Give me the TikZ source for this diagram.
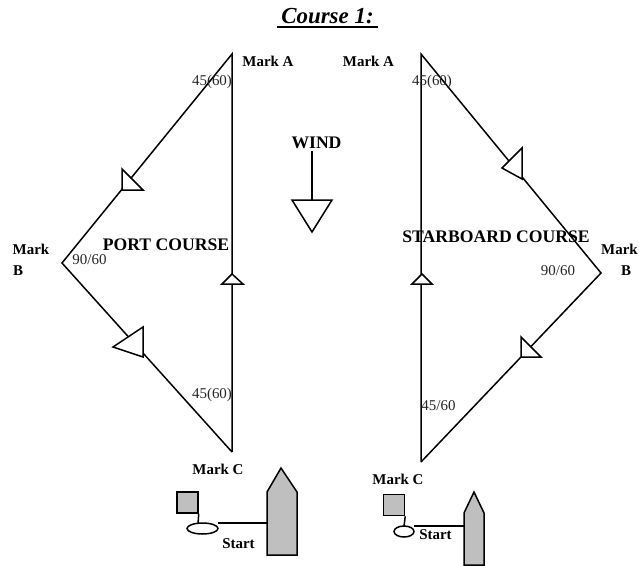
\documentclass[tikz,border=0pt]{standalone}
\usepackage{fontspec}
\setmainfont{Liberation Serif}
\usetikzlibrary{shapes.geometric}
\tikzset{
  course/.style={draw=black,line width=1.5bp,line join=miter},
  head/.style={draw=black,fill=white,line width=1.5bp,line join=miter},
  grey/.style={draw=black,fill=black!25,line width=1.5bp,line join=miter},
  lbl/.style={inner sep=0pt,yshift=-1bp,font=\fontsize{15}{15}\selectfont\color{black!85}},
  blbl/.style={inner sep=0pt,yshift=-0.7bp,font=\fontsize{15}{15}\selectfont\bfseries},
  big/.style={inner sep=0pt,font=\fontsize{17.7}{17.7}\selectfont\bfseries},
  flag/.style={draw=black,fill=black!25,line width=1.5bp,inner sep=0pt,minimum width=21bp,minimum height=21bp},
  buoy/.style={draw=black,fill=white,ellipse,line width=1.5bp,inner sep=0pt}
}
\begin{document}
\begin{tikzpicture}[x=1bp,y=-1bp]
\useasboundingbox (0,0) rectangle (639,566);
% Title
\node[inner sep=0pt,font=\fontsize{23}{23}\selectfont\bfseries\itshape] (title) at (327.5,16) {Course 1:};
\fill (277,26) rectangle (378,28.2);
% Port course
\coordinate (pA) at (232,54);
\coordinate (pB) at (62,263);
\coordinate (pC) at (232,452);
\draw[course] (pC) -- (pA) -- (pB) -- (pC);
\draw[head] (122,169) -- (122,190) -- (143,190) -- cycle;
\draw[head] (143,327) -- (143,357) -- (113,347) -- cycle;
\draw[head] (232,274) -- (222,284) -- (243,284) -- cycle;
% Starboard course
\coordinate (sA) at (421,54);
\coordinate (sB) at (601,273);
\coordinate (sC) at (421,462);
\draw[course] (sC) -- (sA) -- (sB) -- (sC);
\draw[head] (522,148) -- (522,179) -- (502,168) -- cycle;
\draw[head] (521,337) -- (521,357) -- (541,357) -- cycle;
\draw[head] (422,274) -- (412,284) -- (432,284) -- cycle;
% Wind
\node[big] (wind) at (316.5,143) {WIND};
\coordinate (wTop) at (312,151);
\coordinate (wBase) at (312,200);
\draw[course] (wTop) -- (wBase);
\draw[head] (292,200) -- (332,200) -- (312,232) -- cycle;
% Labels
\node[blbl] (lmA) at (268,61) {Mark A};
\node[blbl] (rmA) at (368.5,61) {Mark A};
\node[lbl] (la1) at (212,81) {45(60)};
\node[lbl] (ra1) at (432,81) {45(60)};
\node[big] (portc) at (166,245) {PORT COURSE};
\node[big] (starc) at (496,237) {STARBOARD COURSE};
\node[lbl] (l90) at (89.5,259) {90/60};
\node[lbl] (r90) at (558,270) {90/60};
\node[blbl] (lmB1) at (31,249) {Mark};
\node[blbl,anchor=west] (lmB2) at (13,270) {B};
\node[blbl] (rmB1) at (619.5,249) {Mark};
\node[blbl] (rmB2) at (626,270) {B};
\node[lbl] (lc45) at (212,394) {45(60)};
\node[lbl] (rc45) at (438.5,405) {45/60};
\node[blbl] (lmC) at (218,469) {Mark C};
\node[blbl] (rmC) at (398,479) {Mark C};
% Left start
\node[flag] (lflag) at (187.5,502.5) {};
\node[buoy,minimum width=31bp,minimum height=11bp] (lbuoy) at (202.5,528.5) {};
\coordinate (lpole) at (198,523.5);
\draw[course] (lflag.south east) -- (lpole);
\draw[grey] (267,555) -- (267,492) -- (281,468) -- (297,492) -- (297,555) -- cycle;
\coordinate (lline) at (218,523);
\coordinate (lboat) at (267,523);
\draw[course] (lline) -- (lboat);
\node[blbl] (lstart) at (238.5,543) {Start};
% Right start
\node[flag] (rflag) at (394,505) {};
\node[buoy,minimum width=20bp,minimum height=11bp] (rbuoy) at (404,531.5) {};
\coordinate (rpole) at (404,526);
\draw[course] (rflag.south east) -- (rpole);
\draw[grey] (464,565) -- (464,513) -- (474,492) -- (484,513) -- (484,565) -- cycle;
\coordinate (rline) at (414,526);
\coordinate (rboat) at (464,526);
\draw[course] (rline) -- (rboat);
\node[blbl] (rstart) at (435.5,534) {Start};
\end{tikzpicture}
\end{document}
